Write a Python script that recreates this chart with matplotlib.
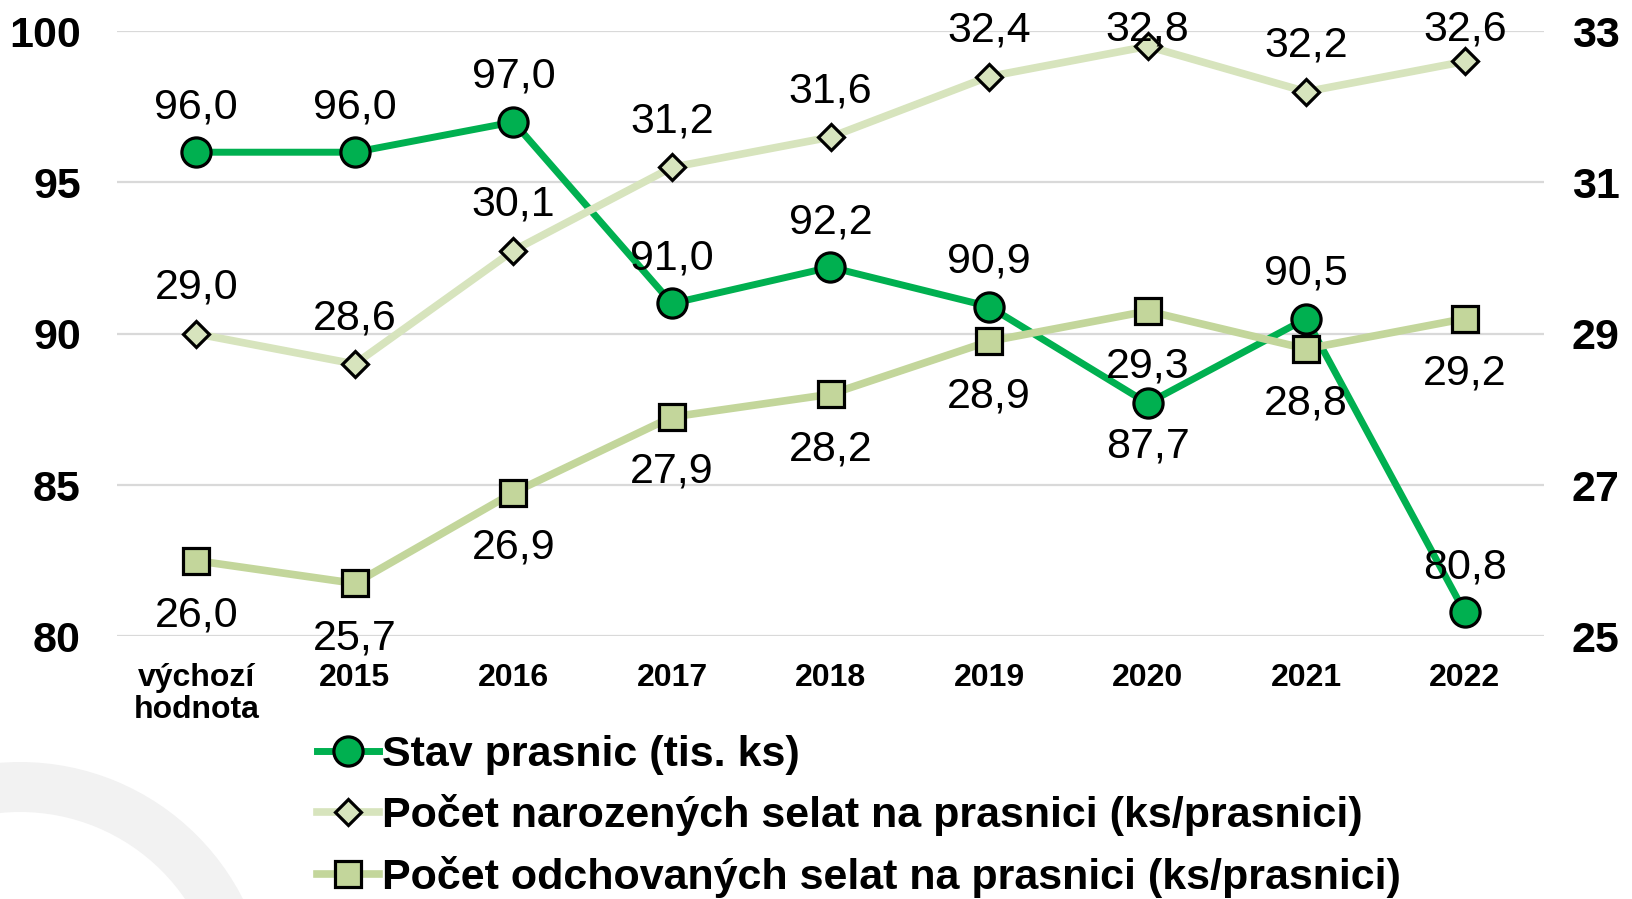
import matplotlib
matplotlib.use('Agg')
import matplotlib.pyplot as plt
from matplotlib.patches import Wedge
from matplotlib.lines import Line2D


categories = ['výchozí\nhodnota', '2015', '2016', '2017', '2018', '2019', '2020', '2021', '2022']

stav_prasnic = [96.0, 96.0, 97.0, 91.0, 92.2, 90.9, 87.7, 90.5, 80.8]
narozena_selata = [29.0, 28.6, 30.1, 31.2, 31.6, 32.4, 32.8, 32.2, 32.6]
odchovana_selata = [26.0, 25.7, 26.9, 27.9, 28.2, 28.9, 29.3, 28.8, 29.2]

left_ticks = [80, 85, 90, 95, 100]
right_ticks = [25, 27, 29, 31, 33]

labels = ['Stav prasnic (tis. ks)',
          'Počet narozených selat na prasnici (ks/prasnici)',
          'Počet odchovaných selat na prasnici (ks/prasnici)']

GREEN = '#00B050'
LIGHT = '#D7E4BD'
MID = '#C3D69B'
FONT = 'Liberation Sans'

plt.rcParams['font.family'] = [FONT, 'DejaVu Sans']

W, H = 1633, 899
fig = plt.figure(figsize=(W / 100, H / 100), dpi=100)

# grey ring in the bottom left corner (background decoration)
bg = fig.add_axes([0, 0, 1, 1], zorder=-10)
bg.set_xlim(0, W)
bg.set_ylim(H, 0)
bg.axis('off')
bg.add_patch(Wedge((20, 1012), 250, 0, 360, width=50, color='#F2F2F2', lw=0))

ax = fig.add_axes([117 / W, 1 - 636.3 / H, (1544 - 117) / W, (636.3 - 31.2) / H])
ax.patch.set_alpha(0)
ax2 = ax.twinx()

x = list(range(len(categories)))

ax.plot(x, stav_prasnic, '-o', color=GREEN, lw=5, markersize=21,
        markerfacecolor=GREEN, markeredgecolor='black', markeredgewidth=2.3, zorder=3)
ax2.plot(x, narozena_selata, '-D', color=LIGHT, lw=5.5, markersize=13.5,
         markerfacecolor=LIGHT, markeredgecolor='black', markeredgewidth=2.3, zorder=3)
ax2.plot(x, odchovana_selata, '-s', color=MID, lw=5.5, markersize=19,
         markerfacecolor=MID, markeredgecolor='black', markeredgewidth=2.3, zorder=4)

ax.set_xlim(-0.5, len(categories) - 0.5)
ax.set_ylim(80, 100)
ax2.set_ylim(25, 33)

ax.set_yticks(left_ticks)
ax.set_yticklabels([str(t) for t in left_ticks], fontsize=31, fontweight='bold')
ax2.set_yticks(right_ticks)
ax2.set_yticklabels([str(t) for t in right_ticks], fontsize=31, fontweight='bold')
ax.set_xticks(x)
ax.set_xticklabels(categories, fontsize=23, fontweight='bold', linespacing=1.1)

ax.tick_params(axis='y', length=0, pad=26)
ax2.tick_params(axis='y', length=0, pad=20)
ax.tick_params(axis='x', length=0, pad=19)

ax.grid(axis='y', color='#D9D9D9', lw=1.6)
ax.set_axisbelow(True)
for a in (ax, ax2):
    for s in a.spines.values():
        s.set_visible(False)


def fmt(v):
    return f'{v:.1f}'.replace('.', ',')


# data labels, offset in pixels from the point (+ above, - below); clamp to chart top
def add_labels(axis, values, offsets):
    for i, v in enumerate(values):
        px, py = axis.transData.transform((i, v))
        py = min(py + offsets[i], H - 29)
        ax2.annotate(fmt(v), xy=(px, py), xycoords='figure pixels',
                     ha='center', va='center', fontsize=31, zorder=10)


add_labels(ax, stav_prasnic, [45, 45, 45, 45, 45, 45, -43, 45, 45])
add_labels(ax2, narozena_selata, [46] * 9)
add_labels(ax2, odchovana_selata, [-55] * 9)

handles = [
    Line2D([], [], color=GREEN, lw=5, marker='o', markersize=21,
           markerfacecolor=GREEN, markeredgecolor='black', markeredgewidth=2.3),
    Line2D([], [], color=LIGHT, lw=5.5, marker='D', markersize=13.5,
           markerfacecolor=LIGHT, markeredgecolor='black', markeredgewidth=2.3),
    Line2D([], [], color=MID, lw=5.5, marker='s', markersize=19,
           markerfacecolor=MID, markeredgecolor='black', markeredgewidth=2.3),
]
fig.legend(handles, labels, loc='upper left', bbox_to_anchor=(317 / W, 1 - 735 / H),
           frameon=False, borderpad=0, borderaxespad=0, handlelength=1.45,
           handletextpad=0.05, labelspacing=0.45,
           prop={'family': FONT, 'weight': 'bold', 'size': 31})

fig.savefig('out.png', dpi=100)
